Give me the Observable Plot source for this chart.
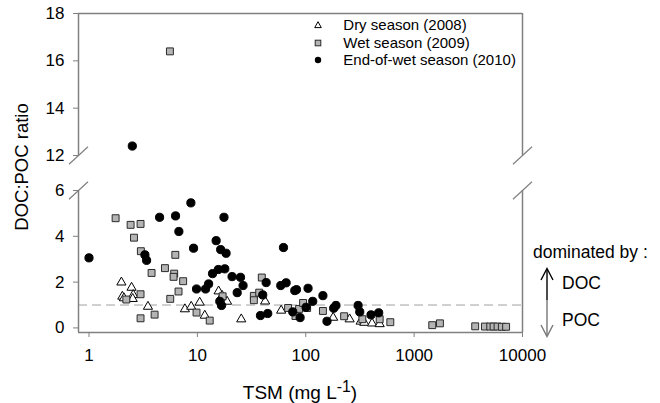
<!DOCTYPE html>
<html>
<head>
<meta charset="utf-8">
<script src="https://cdn.jsdelivr.net/npm/d3@7"></script>
<script src="https://cdn.jsdelivr.net/npm/@observablehq/plot@0.6"></script>
<style>
  body { margin: 0; background: #fff; }
  #chart { position: relative; width: 660px; height: 403px; font-family: "Liberation Sans", Arial, sans-serif; color: #000; overflow: hidden; }
  #chart > svg { position: absolute; left: 0; overflow: visible; }
  #chart g[aria-label="x-axis tick"] path, #chart g[aria-label="y-axis tick"] path { stroke: #808080; }
  #chart .tick line { stroke: #808080; }
  .abs { position: absolute; white-space: nowrap; }
  .legend-row { position: absolute; left: 310.3px; height: 16px; display: flex; align-items: center; font-size: 15px; line-height: 16px; }
  .legend-row svg { width: 16px; height: 16px; margin-right: 17px; }
</style>
</head>
<body>
<div id="chart"></div>
<script>
// ---- Data ----
const seriesNames = ["Dry season (2008)", "Wet season (2009)", "End-of-wet season (2010)"];

const dryTSM   = [1.99, 2.03, 2.10, 2.47, 2.56, 2.53, 3.50, 7.67, 8.77, 10.5, 11.7, 15.7, 16.9, 18.8, 25.4, 42.2, 59.3, 179, 254, 321, 347, 409, 481];
const dryRatio = [1.99, 1.37, 1.30, 1.76, 1.44, 1.27, 0.93, 0.82, 0.93, 1.11, 0.54, 1.60, 1.41, 1.15, 0.38, 1.16, 0.76, 0.45, 0.38, 0.28, 0.23, 0.20, 0.17];

const wetTSM   = [1.76, 2.42, 2.99, 2.60, 3.01, 6.26, 3.78, 5.02, 6.11, 6.03, 7.39, 6.70, 5.62, 2.99, 2.21, 2.99, 4.03, 9.82, 13.0, 17.1, 33.2, 33.2, 37.2, 39.3, 68.7, 80.4, 86.8, 94.5, 103, 144, 226, 333, 481, 603, 1470, 1730, 3660, 4500, 5040, 5410, 5890, 6450, 7060, 5.58];
const wetRatio = [4.79, 4.50, 4.54, 3.94, 3.35, 3.19, 2.40, 2.61, 2.37, 2.23, 2.04, 1.59, 1.27, 1.47, 1.24, 0.42, 0.58, 0.67, 0.32, 1.38, 1.40, 1.21, 1.54, 2.20, 0.87, 0.52, 0.83, 1.09, 0.87, 0.74, 0.51, 0.38, 0.38, 0.25, 0.12, 0.20, 0.07, 0.06, 0.06, 0.06, 0.06, 0.05, 0.05, 16.4];

const endTSM   = [1.00, 3.28, 3.40, 4.48, 6.29, 6.75, 8.71, 9.22, 9.82, 11.9, 12.7, 13.8, 14.9, 15.6, 16.4, 17.6, 17.9, 18.4, 16.1, 16.7, 20.9, 23.3, 25.0, 26.4, 38.2, 40.1, 43.1, 44.6, 62.3, 58.8, 65.9, 75.9, 79.2, 82.1, 88.7, 100.7, 105, 116, 144, 157, 181, 190, 304, 315, 400, 471, 2.51];
const endRatio = [3.06, 3.19, 2.95, 4.83, 4.89, 4.21, 5.46, 3.48, 1.70, 1.70, 1.92, 2.37, 3.81, 2.55, 3.42, 4.83, 2.58, 3.26, 1.16, 0.98, 2.24, 1.54, 2.21, 1.85, 0.54, 1.44, 1.98, 0.63, 3.51, 1.85, 1.97, 0.70, 1.63, 1.67, 0.45, 0.90, 1.73, 1.16, 1.41, 0.29, 0.86, 0.98, 0.98, 0.70, 0.57, 0.66, 12.4];

const xTicks = [1, 10, 100, 1000, 10000];
const yTicksLow = [0, 2, 4, 6];
const yTicksHigh = [12, 14, 16, 18];
const refLine = [1];

const xTitle = "TSM (mg L<sup>-1</sup>)";
const yTitle = "DOC:POC ratio";
const noteTitle = "dominated by :";
const noteUp = "DOC";
const noteDown = "POC";

// ---- Build table ----
const rows = (xs, ys, s) => xs.map((x, i) => ({tsm: x, ratio: ys[i], season: s}));
const data = [
  ...rows(dryTSM, dryRatio, seriesNames[0]),
  ...rows(wetTSM, wetRatio, seriesNames[1]),
  ...rows(endTSM, endRatio, seriesNames[2])
];

// ---- Layout ----
const W = 660, ML = 78, MR = 138;
const xDomain = [0.8, 10000];
const lowDomain = [-0.2, 6];
const highDomain = [12, 18];
const spine = "#808080";
const font = '"Liberation Sans", Arial, sans-serif';
const pxPerDecade = (W - ML - MR) / Math.log10(xDomain[1] / xDomain[0]);
const kx = Math.pow(10, 9.5 / pxPerDecade);

const styles = [
  {symbol: "triangle", fill: "white", stroke: "black", r: 3.4},
  {symbol: "square", fill: "#b4b4b4", stroke: "#2a2a2a", r: 3.9},
  {symbol: "circle", fill: "black", stroke: "black", r: 4.1}
];

function seriesMarks(subset) {
  return seriesNames.map((s, i) => Plot.dot(subset.filter(d => d.season === s), {
    x: "tsm", y: "ratio", symbol: () => styles[i].symbol, r: styles[i].r,
    fill: styles[i].fill, stroke: styles[i].stroke, strokeWidth: 1
  }));
}

function breakMarks(yv, halfH) {
  const br = [{x: xDomain[0], y: yv}, {x: xDomain[1], y: yv}];
  return Plot.link(br, {
    x1: d => d.x / kx, x2: d => d.x * kx,
    y1: d => d.y - halfH, y2: d => d.y + halfH,
    stroke: spine, strokeWidth: 1.2
  });
}

const chart = document.getElementById("chart");

// Top panel (12 - 18)
const topH = 175, topMT = 13, topMB = 20;
const topPlot = Plot.plot({
  width: W, height: topH,
  marginLeft: ML, marginRight: MR, marginTop: topMT, marginBottom: topMB,
  style: {fontSize: "17px", fontFamily: font, background: "transparent", overflow: "visible", color: "#000"},
  x: {type: "log", domain: xDomain, axis: null},
  y: {domain: highDomain, ticks: yTicksHigh, tickSize: 5, tickPadding: 9, tickFormat: d => String(d), label: null},
  marks: [
    Plot.ruleY([highDomain[1]], {stroke: spine, strokeWidth: 1.5}),
    Plot.ruleX([xDomain[0], xDomain[1]], {stroke: spine, strokeWidth: 1.5}),
    breakMarks(highDomain[0], 8.8 / ((topH - topMT - topMB) / (highDomain[1] - highDomain[0]))),
    ...seriesMarks(data.filter(d => d.ratio >= highDomain[0]))
  ]
});
topPlot.style.top = "0px";
chart.appendChild(topPlot);

// Bottom panel (0 - 6)
const botTop = 175, botH = 228, botMT = 15, botMB = 71;
const botPlot = Plot.plot({
  width: W, height: botH,
  marginLeft: ML, marginRight: MR, marginTop: botMT, marginBottom: botMB,
  style: {fontSize: "17px", fontFamily: font, background: "transparent", overflow: "visible", color: "#000"},
  x: {type: "log", domain: xDomain, ticks: xTicks, tickSize: 5, tickPadding: 11, tickFormat: d => String(d), label: null},
  y: {domain: lowDomain, ticks: yTicksLow, tickSize: 5, tickPadding: 9, tickFormat: d => String(d), label: null},
  marks: [
    Plot.ruleY(refLine, {stroke: "#a0a0a0", strokeWidth: 1, strokeDasharray: "9,5"}),
    Plot.ruleY([lowDomain[0]], {stroke: spine, strokeWidth: 1.5}),
    Plot.ruleX([xDomain[0], xDomain[1]], {stroke: spine, strokeWidth: 1.5}),
    breakMarks(lowDomain[1], 8.8 / ((botH - botMT - botMB) / (lowDomain[1] - lowDomain[0]))),
    ...seriesMarks(data.filter(d => d.ratio <= lowDomain[1]))
  ]
});
botPlot.style.top = botTop + "px";
chart.appendChild(botPlot);

// ---- HTML annotations ----
function add(html, css) {
  const el = document.createElement("div");
  el.className = "abs";
  el.innerHTML = html;
  Object.assign(el.style, css);
  chart.appendChild(el);
  return el;
}

// Axis titles
add(xTitle, {left: "200px", width: "200px", textAlign: "center", top: "376px", fontSize: "19px", lineHeight: "22px"});
add(yTitle, {left: "-78px", width: "200px", textAlign: "center", top: "156px", fontSize: "18.5px", lineHeight: "22px", transform: "rotate(-90deg)"});

// Legend
const legendSym = [
  '<svg viewBox="-8 -8 16 16"><path d="M0,-3.3L3.3,2.6L-3.3,2.6Z" fill="white" stroke="black" stroke-width="1"/></svg>',
  '<svg viewBox="-8 -8 16 16"><rect x="-2.8" y="-2.8" width="5.6" height="5.6" fill="#b4b4b4" stroke="#2a2a2a" stroke-width="1"/></svg>',
  '<svg viewBox="-8 -8 16 16"><circle r="3.2" fill="black"/></svg>'
];
const legendTops = [17, 34.7, 52.4];
seriesNames.forEach((s, i) => {
  const el = document.createElement("div");
  el.className = "legend-row";
  el.style.top = legendTops[i] + "px";
  el.innerHTML = legendSym[i] + "<span>" + s + "</span>";
  chart.appendChild(el);
});

// Right-hand note
add(noteTitle, {left: "533px", top: "241.7px", fontSize: "17.5px", lineHeight: "20px"});
add(noteUp, {left: "562px", top: "273px", fontSize: "17.5px", lineHeight: "20px"});
add(noteDown, {left: "562px", top: "310px", fontSize: "17.5px", lineHeight: "20px"});
add('<svg width="20" height="74" style="display:block">' +
    '<line x1="10" y1="34" x2="10" y2="3" stroke="black" stroke-width="1.4"/>' +
    '<polyline points="4,14 10,2.5 16,14" fill="none" stroke="black" stroke-width="1.4"/>' +
    '<line x1="10" y1="34" x2="10" y2="70" stroke="#777" stroke-width="1.4"/>' +
    '<polyline points="4,59 10,70.5 16,59" fill="none" stroke="#777" stroke-width="1.4"/>' +
    '</svg>', {left: "536.7px", top: "266px"});
</script>
</body>
</html>
